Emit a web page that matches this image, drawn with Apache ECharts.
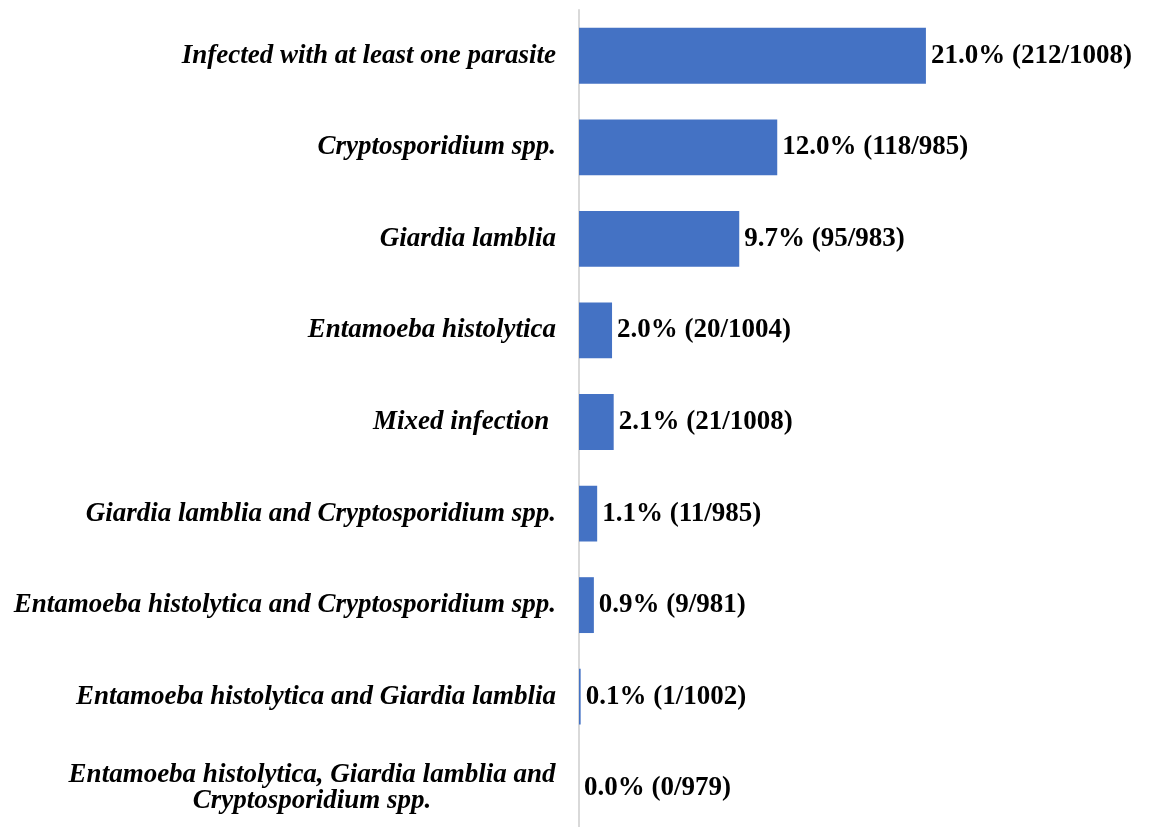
<!DOCTYPE html>
<html>
<head>
<meta charset="UTF-8">
<title>Parasite prevalence</title>
<script src="https://cdn.jsdelivr.net/npm/echarts@6/dist/echarts.min.js"></script>
<style>
  html, body { margin: 0; padding: 0; background: #fff; overflow: hidden; }
</style>
</head>
<body>
<!-- chart is a little taller than the window: the last row is cut at the bottom edge -->
<div id="main" style="width: 1149px;height:834px;"></div>
<script type="text/javascript">
        // categories, top to bottom
        var categories = [
            'Infected with at least one parasite',
            'Cryptosporidium spp.',
            'Giardia lamblia',
            'Entamoeba histolytica',
            'Mixed infection ',
            'Giardia lamblia and Cryptosporidium spp.',
            'Entamoeba histolytica and Cryptosporidium spp.',
            'Entamoeba histolytica and Giardia lamblia',
            'Entamoeba histolytica, Giardia lamblia and\nCryptosporidium spp.'
        ];
        var percents = [21.0, 12.0, 9.7, 2.0, 2.1, 1.1, 0.9, 0.1, 0.0];
        var positives = [212, 118, 95, 20, 21, 11, 9, 1, 0];
        var totals = [1008, 985, 983, 1004, 1008, 985, 981, 1002, 979];

        var serif = '"Liberation Serif", "Times New Roman", serif';
        var myChart = echarts.init(document.getElementById('main'));

        myChart.setOption({
            backgroundColor: '#ffffff',
            animation: false,
            grid: {
                left: 579,
                right: 157,
                top: 10,
                bottom: 0,
                containLabel: false
            },
            xAxis: {
                type: 'value',
                min: 0,
                max: 25,
                show: false
            },
            yAxis: {
                type: 'category',
                inverse: true,
                data: categories,
                axisTick: { show: false },
                axisLine: {
                    show: true,
                    lineStyle: { color: '#d9d9d9', width: 2 }
                },
                axisLabel: {
                    margin: 23,
                    color: '#000',
                    fontFamily: serif,
                    fontStyle: 'italic',
                    fontWeight: 'bold',
                    fontSize: 27,
                    lineHeight: 26,
                    formatter: function (v) {
                        if (v.indexOf('\n') < 0) return v;
                        return v.split('\n').map(function (s) {
                            return '{c|' + s + '}';
                        }).join('\n');
                    },
                    rich: {
                        c: {
                            width: 488,
                            align: 'center',
                            color: '#000',
                            fontFamily: serif,
                            fontStyle: 'italic',
                            fontWeight: 'bold',
                            fontSize: 27,
                            lineHeight: 26
                        }
                    }
                }
            },
            series: [
                {
                    type: 'bar',
                    data: percents,
                    barWidth: '61%',
                    itemStyle: { color: '#4472C4' },
                    label: {
                        show: true,
                        position: 'right',
                        distance: 5,
                        color: '#000',
                        fontFamily: serif,
                        fontWeight: 'bold',
                        fontSize: 27,
                        formatter: function (p) {
                            var i = p.dataIndex;
                            return percents[i].toFixed(1) + '% (' + positives[i] + '/' + totals[i] + ')';
                        }
                    }
                }
            ]
        });
    </script>
</body>
</html>
